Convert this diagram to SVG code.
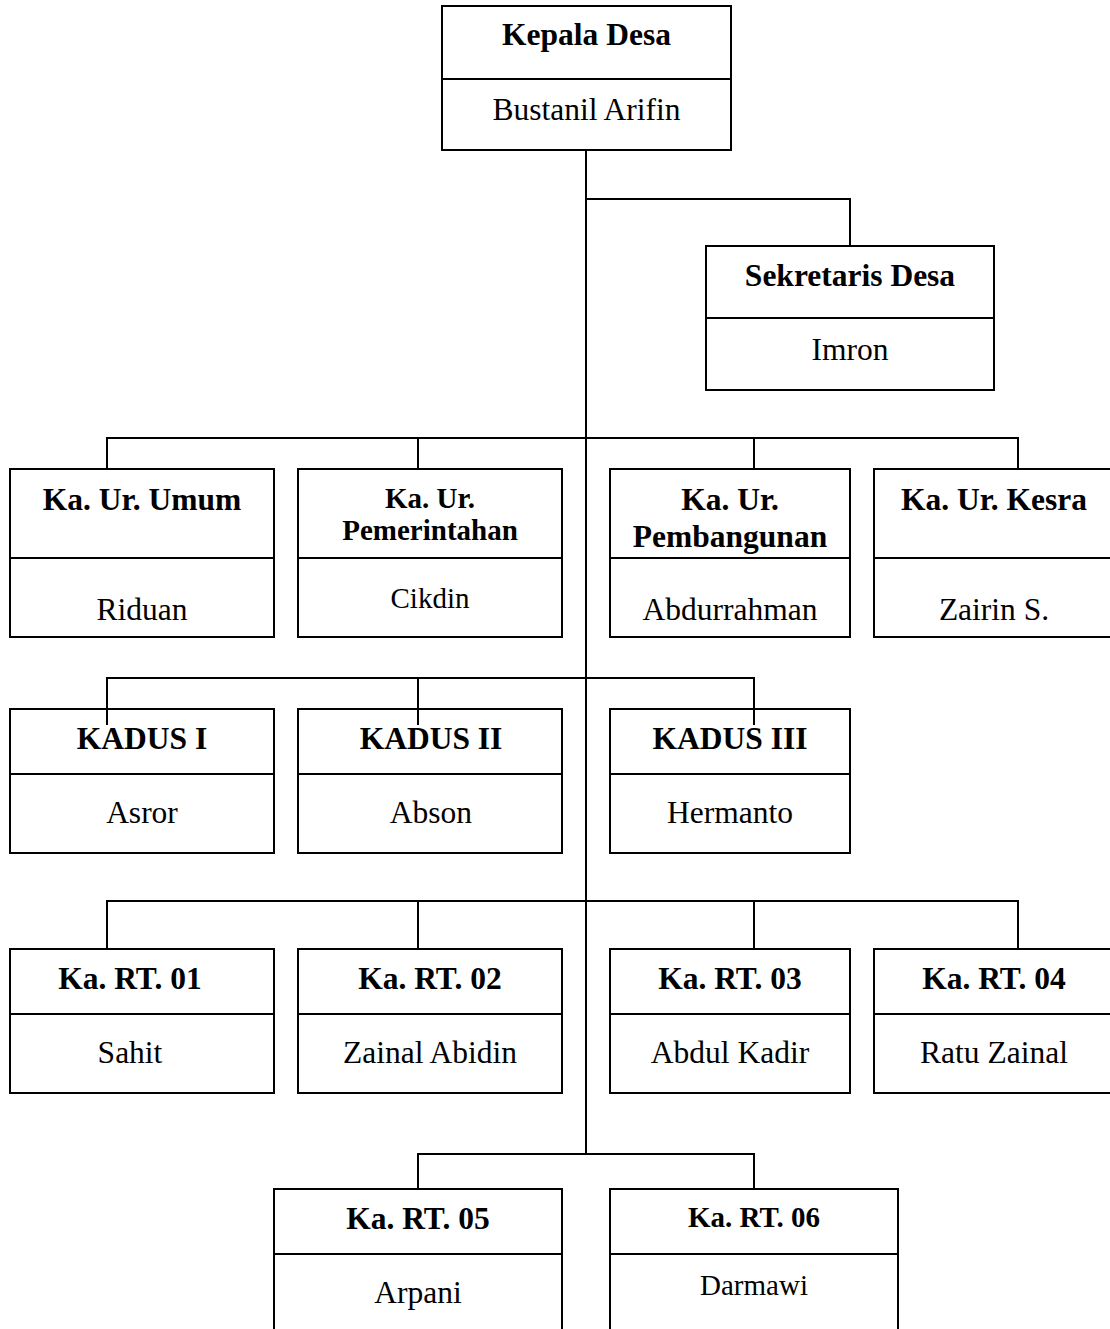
<svg xmlns="http://www.w3.org/2000/svg" width="1110" height="1329" viewBox="0 0 1110 1329">
<style>
.box{fill:#fff;stroke:#000;stroke-width:2}
.div{stroke:#000;stroke-width:2}
.con{stroke:#000;stroke-width:2;fill:none}
text{font-family:"Liberation Serif","Times New Roman",serif;font-size:31.5px;fill:#000;text-anchor:middle}
.b{font-weight:bold}
.s{font-size:29px}
</style>
<rect width="1110" height="1329" fill="#fff"/>
<g id="connectors">
<path class="con" d="M586 150V1154"/>
<path class="con" d="M586 199H850V246"/>
<path class="con" d="M107 469V438H1018V469M418 438V469M754 438V469"/>
<path class="con" d="M107 725V678H754V725M418 678V725"/>
<path class="con" d="M107 949V901H1018V949M418 901V949M754 901V949"/>
<path class="con" d="M418 1189V1154H754V1189"/>
</g>
<g id="kepala-desa">
<rect class="box" x="442" y="6" width="289" height="144"/>
<line class="div" x1="442" y1="79" x2="731" y2="79"/>
<text class="b" x="586.5" y="45">Kepala Desa</text>
<text x="586.5" y="120">Bustanil Arifin</text>
</g>
<g id="sekretaris-desa">
<rect class="box" x="706" y="246" width="288" height="144"/>
<line class="div" x1="706" y1="318" x2="994" y2="318"/>
<text class="b" x="850" y="286">Sekretaris Desa</text>
<text x="850" y="360">Imron</text>
</g>
<g id="ka-ur-umum">
<rect class="box" x="10" y="469" width="264" height="168"/>
<line class="div" x1="10" y1="558" x2="274" y2="558"/>
<text class="b" x="142" y="510">Ka. Ur. Umum</text>
<text x="142" y="620">Riduan</text>
</g>
<g id="ka-ur-pemerintahan">
<rect class="box" x="298" y="469" width="264" height="168"/>
<line class="div" x1="298" y1="558" x2="562" y2="558"/>
<text class="b s" x="430" y="508">Ka. Ur.</text>
<text class="b s" x="430" y="540">Pemerintahan</text>
<text class="s" x="430" y="608">Cikdin</text>
</g>
<g id="ka-ur-pembangunan">
<rect class="box" x="610" y="469" width="240" height="168"/>
<line class="div" x1="610" y1="558" x2="850" y2="558"/>
<text class="b" x="730" y="510">Ka. Ur.</text>
<text class="b" x="730" y="547">Pembangunan</text>
<text x="730" y="620">Abdurrahman</text>
</g>
<g id="ka-ur-kesra">
<rect class="box" x="874" y="469" width="240" height="168"/>
<line class="div" x1="874" y1="558" x2="1114" y2="558"/>
<text class="b" x="994" y="510">Ka. Ur. Kesra</text>
<text x="994" y="620">Zairin S.</text>
</g>
<g id="kadus-1">
<rect class="box" x="10" y="709" width="264" height="144"/>
<line class="div" x1="10" y1="774" x2="274" y2="774"/>
<text class="b" x="142" y="749">KADUS I</text>
<text x="142" y="823">Asror</text>
</g>
<g id="kadus-2">
<rect class="box" x="298" y="709" width="264" height="144"/>
<line class="div" x1="298" y1="774" x2="562" y2="774"/>
<text class="b" x="431" y="749">KADUS II</text>
<text x="431" y="823">Abson</text>
</g>
<g id="kadus-3">
<rect class="box" x="610" y="709" width="240" height="144"/>
<line class="div" x1="610" y1="774" x2="850" y2="774"/>
<text class="b" x="730" y="749">KADUS III</text>
<text x="730" y="823">Hermanto</text>
</g>
<g id="connectors-overlap">
<path class="con" d="M107 709V725M418 709V725M754 709V725"/>
</g>
<g id="ka-rt-01">
<rect class="box" x="10" y="949" width="264" height="144"/>
<line class="div" x1="10" y1="1014" x2="274" y2="1014"/>
<text class="b" x="130" y="989">Ka. RT. 01</text>
<text x="130" y="1063">Sahit</text>
</g>
<g id="ka-rt-02">
<rect class="box" x="298" y="949" width="264" height="144"/>
<line class="div" x1="298" y1="1014" x2="562" y2="1014"/>
<text class="b" x="430" y="989">Ka. RT. 02</text>
<text x="430" y="1063">Zainal Abidin</text>
</g>
<g id="ka-rt-03">
<rect class="box" x="610" y="949" width="240" height="144"/>
<line class="div" x1="610" y1="1014" x2="850" y2="1014"/>
<text class="b" x="730" y="989">Ka. RT. 03</text>
<text x="730" y="1063">Abdul Kadir</text>
</g>
<g id="ka-rt-04">
<rect class="box" x="874" y="949" width="240" height="144"/>
<line class="div" x1="874" y1="1014" x2="1114" y2="1014"/>
<text class="b" x="994" y="989">Ka. RT. 04</text>
<text x="994" y="1063">Ratu Zainal</text>
</g>
<g id="ka-rt-05">
<rect class="box" x="274" y="1189" width="288" height="160"/>
<line class="div" x1="274" y1="1254" x2="562" y2="1254"/>
<text class="b" x="418" y="1229">Ka. RT. 05</text>
<text x="418" y="1303">Arpani</text>
</g>
<g id="ka-rt-06">
<rect class="box" x="610" y="1189" width="288" height="160"/>
<line class="div" x1="610" y1="1254" x2="898" y2="1254"/>
<text class="b s" x="754" y="1227">Ka. RT. 06</text>
<text class="s" x="754" y="1295">Darmawi</text>
</g>
</svg>
